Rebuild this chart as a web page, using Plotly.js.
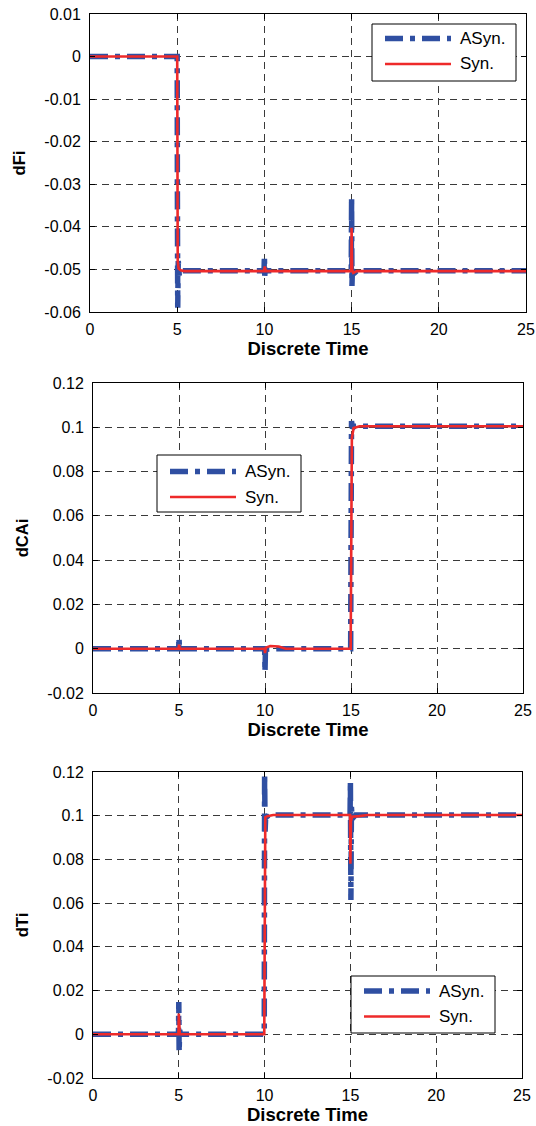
<!DOCTYPE html>
<html>
<head>
<meta charset="utf-8">
<script src="https://cdn.plot.ly/plotly-3.0.1.min.js"></script>
<style>html,body{margin:0;padding:0;background:#fff;}#chart{width:536px;height:1126px;}</style>
</head>
<body>
<div id="chart"></div>
<script>
// ---- data ----
const seriesNames = ["ASyn.", "Syn."];
const xTitle = "Discrete Time";
const yTitles = ["dFi", "dCAi", "dTi"];

// Panel 1: dFi
const t1Asyn = [0, 5.0, 5.01, 5.03, 5.06, 5.12, 5.25, 9.98, 10.0, 10.02, 10.05, 10.15, 14.98, 15.0, 15.02, 15.05, 15.12, 15.3, 25];
const dFiAsyn = [0, 0, -0.03, -0.059, -0.048, -0.0515, -0.0503, -0.0503, -0.0468, -0.0515, -0.0500, -0.0503, -0.0503, -0.0331, -0.0539, -0.0495, -0.051, -0.0503, -0.0503];
const t1Syn = [0, 5.0, 5.03, 5.08, 5.2, 5.4, 9.98, 10.02, 10.08, 14.98, 15.0, 15.03, 15.1, 15.3, 25];
const dFiSyn = [0, 0, -0.048, -0.0498, -0.0502, -0.0504, -0.0504, -0.0493, -0.0504, -0.0504, -0.0402, -0.0500, -0.0508, -0.0504, -0.0504];

// Panel 2: dCAi
const t2Asyn = [0, 4.98, 5.0, 5.03, 5.08, 9.98, 10.0, 10.03, 10.08, 10.2, 14.98, 15.0, 15.03, 15.08, 15.2, 25];
const dCAiAsyn = [0, 0, 0.005, -0.001, 0, 0, -0.0105, 0.001, -0.0005, 0, 0, 0.06, 0.1028, 0.0995, 0.1005, 0.1005];
const t2Syn = [0, 4.98, 5.0, 5.04, 9.98, 10.0, 10.05, 10.3, 10.8, 11.2, 14.98, 15.05, 15.15, 15.5, 25];
const dCAiSyn = [0, 0, 0.0018, 0, 0, -0.002, 0.0005, 0.0012, 0.001, 0, 0, 0.095, 0.0997, 0.1005, 0.1005];

// Panel 3: dTi
const t3Asyn = [0, 4.98, 5.0, 5.02, 5.05, 5.1, 9.98, 10.0, 10.03, 10.07, 10.12, 10.25, 14.98, 15.0, 15.03, 15.06, 15.1, 15.3, 25];
const dTiAsyn = [0, 0, 0.0148, -0.0081, 0.002, 0, 0, 0.1195, 0.0927, 0.101, 0.0995, 0.1003, 0.1003, 0.116, 0.0614, 0.104, 0.0985, 0.1003, 0.1003];
const t3Syn = [0, 4.98, 5.0, 5.03, 5.06, 9.98, 10.0, 10.04, 10.15, 10.5, 14.98, 15.0, 15.03, 15.1, 15.5, 16, 25];
const dTiSyn = [0, 0, 0.0095, 0.001, 0, 0, 0.092, 0.0993, 0.0998, 0.1003, 0.1003, 0.078, 0.0975, 0.0995, 0.0998, 0.1003, 0.1003];

// ticks
const xTickVals = [0, 5, 10, 15, 20, 25];
const xTickText = ["0", "5", "10", "15", "20", "25"];
const y1TickVals = [-0.06, -0.05, -0.04, -0.03, -0.02, -0.01, 0, 0.01];
const y1TickText = ["-0.06", "-0.05", "-0.04", "-0.03", "-0.02", "-0.01", "0", "0.01"];
const y23TickVals = [-0.02, 0, 0.02, 0.04, 0.06, 0.08, 0.1, 0.12];
const y23TickText = ["-0.02", "0", "0.02", "0.04", "0.06", "0.08", "0.1", "0.12"];

// ---- styles ----
const BLUE = "#2f4fa2";
const RED = "#ee2a2a";
const FONT = "Liberation Sans, Arial, sans-serif";
const asynLine = {color: BLUE, width: 5.5, dash: "18px,7px,5px,7px"};
const synLine = {color: RED, width: 2.6};
const lineStyles = [asynLine, synLine];

const panels = [
  {tA: t1Asyn, yA: dFiAsyn, tS: t1Syn, yS: dFiSyn},
  {tA: t2Asyn, yA: dCAiAsyn, tS: t2Syn, yS: dCAiSyn},
  {tA: t3Asyn, yA: dTiAsyn, tS: t3Syn, yS: dTiSyn}
];
const traces = [];
panels.forEach((p, i) => {
  const sx = i === 0 ? "x" : "x" + (i + 1);
  const sy = i === 0 ? "y" : "y" + (i + 1);
  traces.push({x: p.tA, y: p.yA, xaxis: sx, yaxis: sy, mode: "lines", name: seriesNames[0], line: asynLine, showlegend: false});
  traces.push({x: p.tS, y: p.yS, xaxis: sx, yaxis: sy, mode: "lines", name: seriesNames[1], line: synLine, showlegend: false});
});

const W = 536, H = 1126;
function xax(left, right, anchor) {
  return {
    domain: [left / W, right / W], anchor: anchor, range: [0, 25],
    tickmode: "array", tickvals: xTickVals, ticktext: xTickText,
    showline: true, linecolor: "#000", linewidth: 1, mirror: "ticks",
    ticks: "inside", ticklen: 5, tickcolor: "#000",
    showgrid: true, gridcolor: "#3a3a3a", griddash: "7px,5px", gridwidth: 1,
    zeroline: false, automargin: false, ticklabelstandoff: 3,
    tickfont: {family: FONT, size: 16, color: "#000"},
    title: {text: "<b>" + xTitle + "</b>", font: {family: FONT, size: 18.5, color: "#000"}, standoff: 4}
  };
}
function yax(top, bottom, anchor, range, vals, text, title) {
  return {
    domain: [1 - bottom / H, 1 - top / H], anchor: anchor, range: range,
    tickmode: "array", tickvals: vals, ticktext: text,
    showline: true, linecolor: "#000", linewidth: 1, mirror: "ticks",
    ticks: "inside", ticklen: 5, tickcolor: "#000",
    showgrid: true, gridcolor: "#3a3a3a", griddash: "7px,5px", gridwidth: 1,
    zeroline: false, automargin: false, ticklabelstandoff: 5,
    tickfont: {family: FONT, size: 16, color: "#000"},
    title: {text: "<b>" + title + "</b>", font: {family: FONT, size: 16.5, color: "#000"}, standoff: 14}
  };
}

// MATLAB-style legend boxes (long line samples), one per panel: [left, top, firstRowOffset]
const legendBoxes = [[372, 24, 14.5], [157, 455, 16.5], [351, 976, 15]];
const LEG_W = 144, LEG_H = 57, LINE_X0 = 13, LINE_X1 = 79, TEXT_X = 86, ROW_DY = 25.5;
const shapes = [], annotations = [];
const px = v => v / W, py = v => 1 - v / H;
legendBoxes.forEach(([lx, ly, r0]) => {
  shapes.push({type: "rect", xref: "paper", yref: "paper", x0: px(lx), x1: px(lx + LEG_W), y0: py(ly), y1: py(ly + LEG_H),
    line: {color: "#000", width: 1}, fillcolor: "#fff", layer: "above"});
  seriesNames.forEach((nm, k) => {
    const yy = ly + r0 + ROW_DY * k;
    shapes.push({type: "line", xref: "paper", yref: "paper", x0: px(lx + LINE_X0), x1: px(lx + LINE_X1), y0: py(yy), y1: py(yy),
      line: lineStyles[k], layer: "above"});
    annotations.push({xref: "paper", yref: "paper", x: px(lx + TEXT_X), y: py(yy), xanchor: "left", yanchor: "middle",
      text: nm, showarrow: false, font: {family: FONT, size: 17, color: "#000"}});
  });
});

const layout = {
  width: W, height: H,
  margin: {l: 0, r: 0, t: 0, b: 0},
  paper_bgcolor: "#fff", plot_bgcolor: "#fff",
  showlegend: false,
  xaxis: xax(90, 526, "y"),
  yaxis: yax(14, 312, "x", [-0.06, 0.01], y1TickVals, y1TickText, yTitles[0]),
  xaxis2: xax(93, 523, "y2"),
  yaxis2: yax(383, 693, "x2", [-0.02, 0.12], y23TickVals, y23TickText, yTitles[1]),
  xaxis3: xax(93, 522, "y3"),
  yaxis3: yax(772, 1078, "x3", [-0.02, 0.12], y23TickVals, y23TickText, yTitles[2]),
  shapes: shapes,
  annotations: annotations
};

Plotly.newPlot("chart", traces, layout, {staticPlot: true, displayModeBar: false});
</script>
</body>
</html>
